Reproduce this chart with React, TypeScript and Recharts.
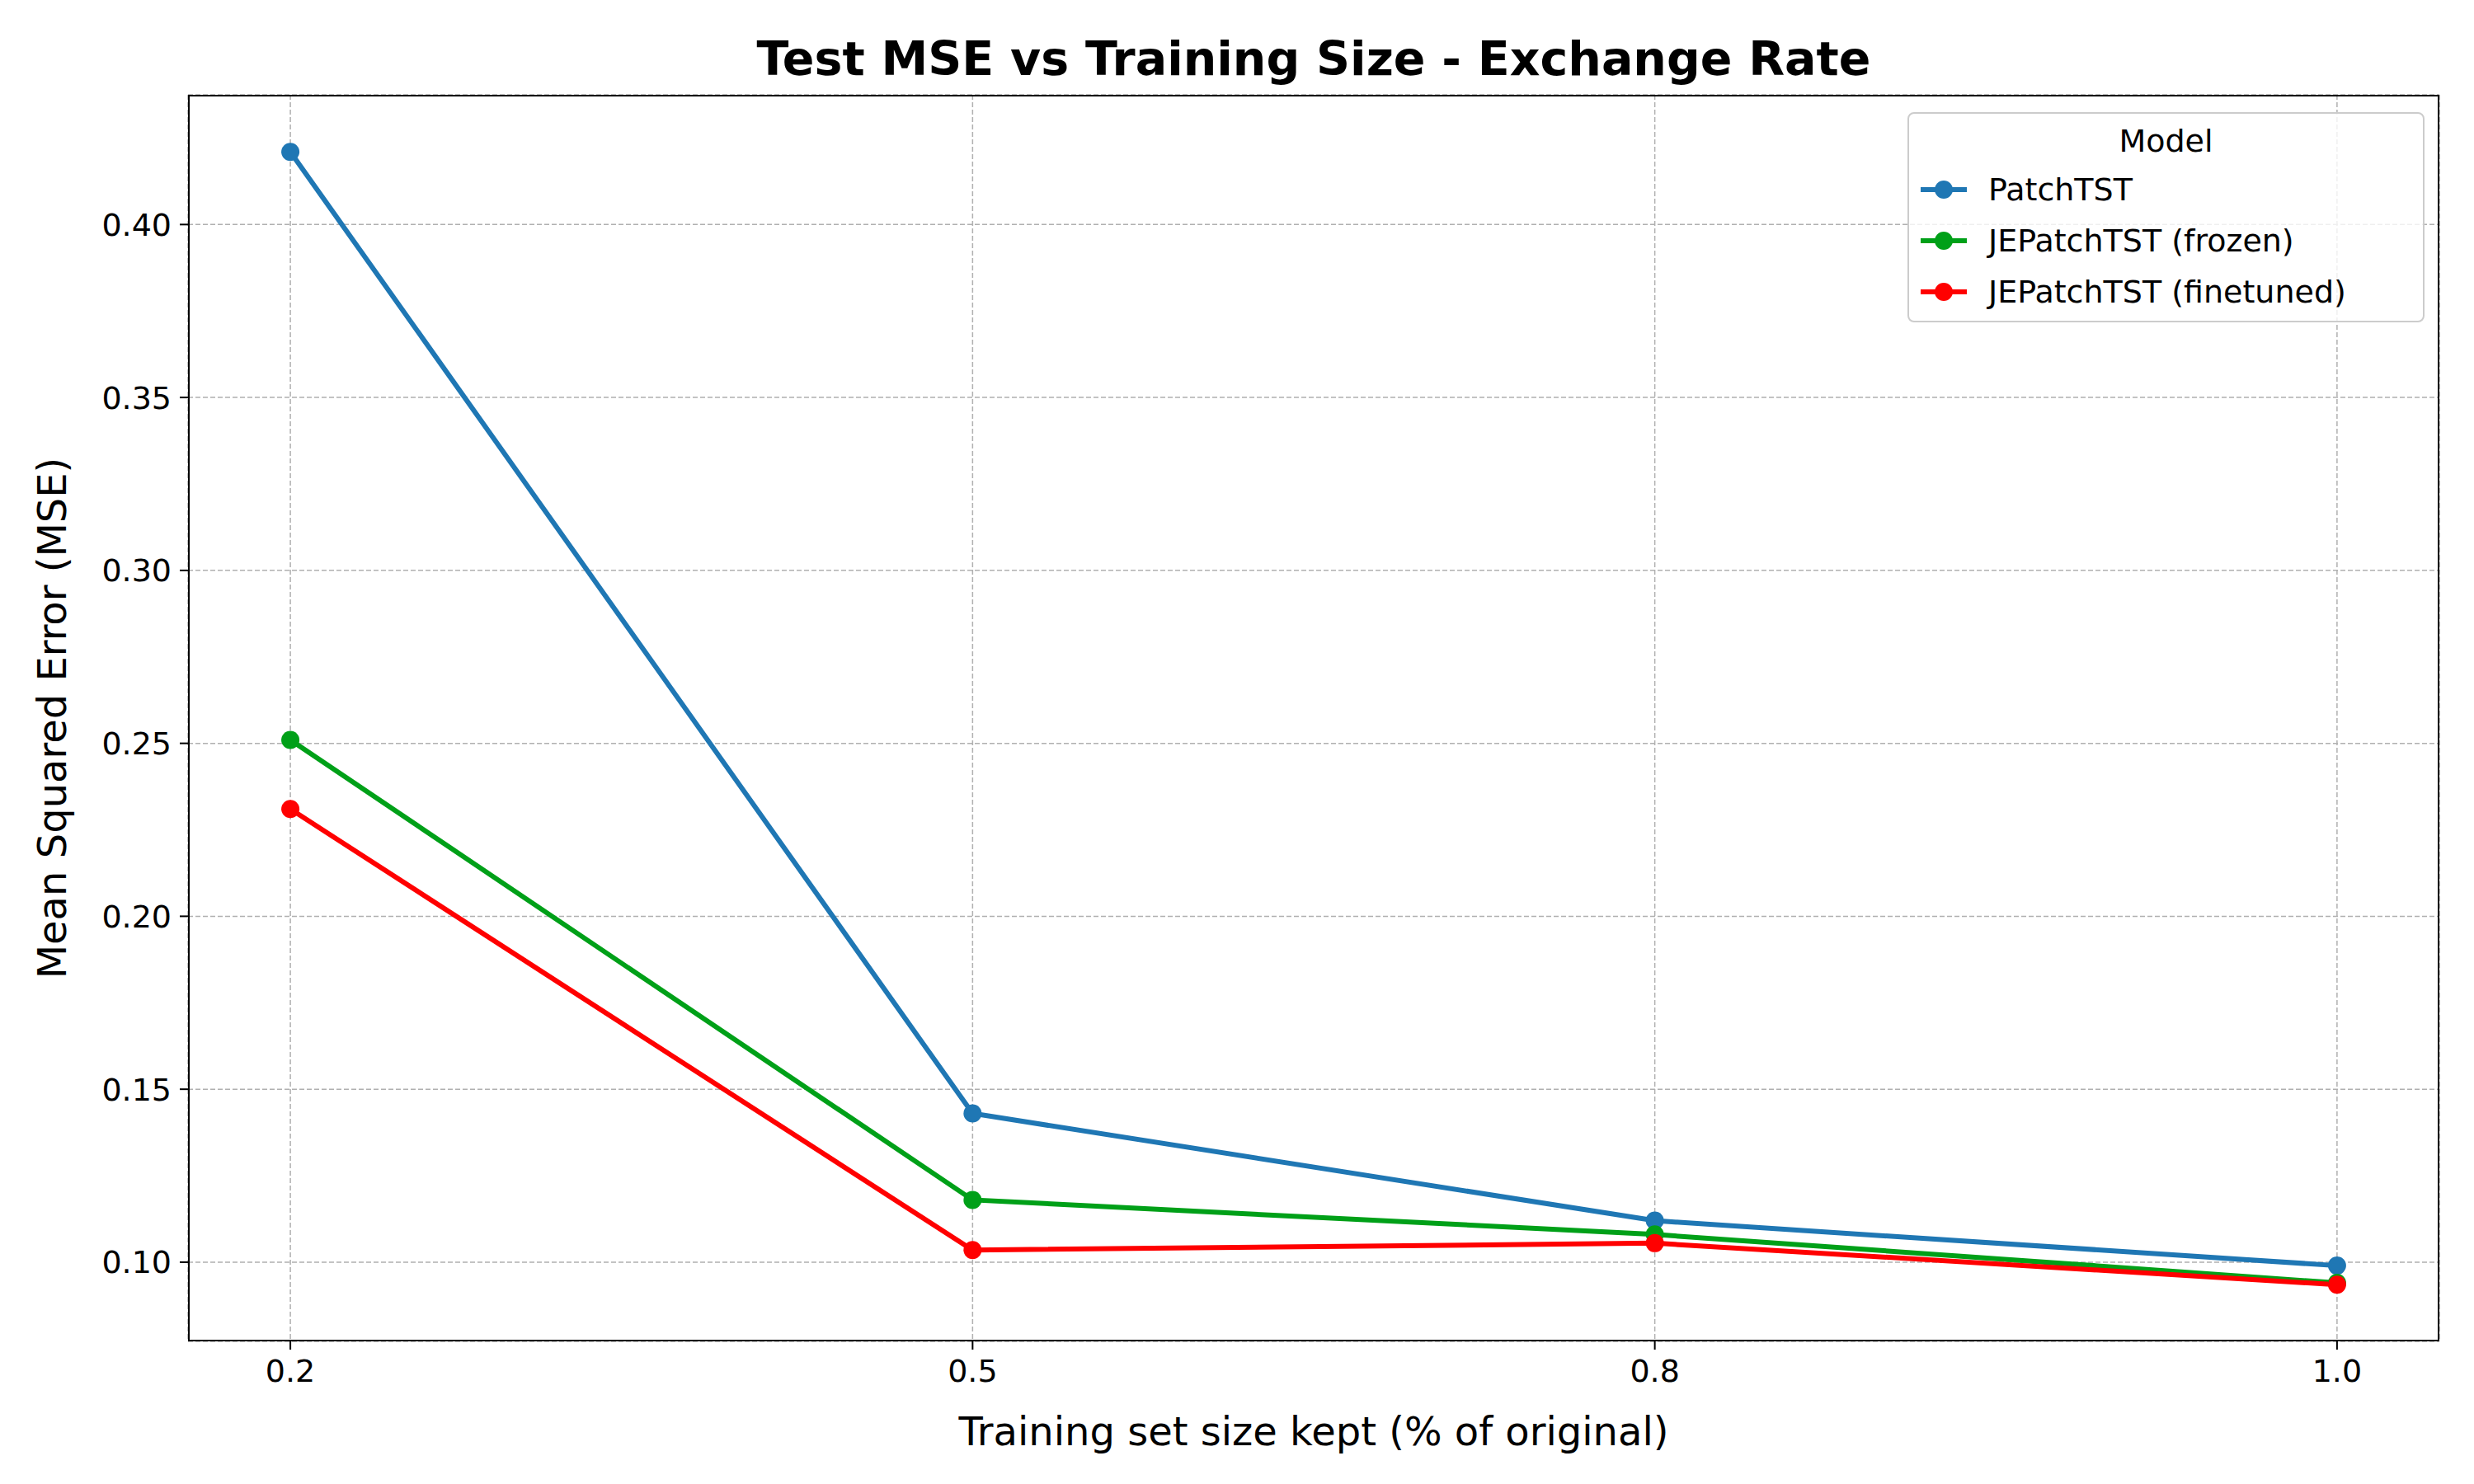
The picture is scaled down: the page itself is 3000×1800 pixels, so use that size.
import { LineChart, Line, XAxis, YAxis, CartesianGrid } from 'recharts'

const sizes = ['0.2', '0.5', '0.8', '1.0']
const patchTST = [0.421, 0.143, 0.112, 0.099]
const jeFrozen = [0.251, 0.118, 0.108, 0.094]
const jeFinetuned = [0.231, 0.1035, 0.1055, 0.0935]
const yTicks = [0.1, 0.15, 0.2, 0.25, 0.3, 0.35, 0.4]

const series = [
  { key: 'patch', name: 'PatchTST', color: '#1f77b4', values: patchTST },
  { key: 'frozen', name: 'JEPatchTST (frozen)', color: '#00a018', values: jeFrozen },
  { key: 'fine', name: 'JEPatchTST (finetuned)', color: '#ff0000', values: jeFinetuned },
]

const data = sizes.map((s, i) => ({
  idx: i,
  patch: patchTST[i],
  frozen: jeFrozen[i],
  fine: jeFinetuned[i],
}))

const font = 'DejaVu Sans, sans-serif'
const plot = { left: 228, top: 115, right: 2958, bottom: 1627 }

export default function App() {
  return (
    <div style={{ position: 'absolute', left: 0, top: 0, width: 3000, height: 1800, background: '#fff', fontFamily: font }}>
      <LineChart width={3000} height={1800} data={data}
        margin={{ top: plot.top, left: plot.left - 160, right: 3000 - plot.right, bottom: 73 }}>
        <CartesianGrid stroke="#b0b0b0" strokeDasharray="6 3" strokeWidth={1.5} />
        <XAxis dataKey="idx" type="number" domain={[-0.15, 3.15]} ticks={[0, 1, 2, 3]}
          tickFormatter={(v) => sizes[v]} height={100} axisLine={false}
          tick={{ fill: '#000', fontSize: 38, fontFamily: font }} tickSize={10}
          tickLine={{ stroke: '#000', strokeWidth: 2 }} tickMargin={12} />
        <YAxis type="number" domain={[0.0771, 0.4375]} ticks={yTicks} width={160}
          tickFormatter={(v) => v.toFixed(2)} axisLine={false}
          tick={{ fill: '#000', fontSize: 38, fontFamily: font }} tickSize={10}
          tickLine={{ stroke: '#000', strokeWidth: 2 }} tickMargin={10} />
        {series.map((s) => (
          <Line key={s.key} dataKey={s.key} type="linear" stroke={s.color} strokeWidth={6}
            dot={{ r: 11, fill: s.color, stroke: s.color, strokeWidth: 0 }} isAnimationActive={false} />
        ))}
      </LineChart>
      <div style={{ position: 'absolute', left: plot.left, top: plot.top, width: plot.right - plot.left, height: plot.bottom - plot.top, border: '2px solid #000', boxSizing: 'border-box', pointerEvents: 'none' }} />
      <div style={{ position: 'absolute', left: plot.left, width: plot.right - plot.left, top: 71, transform: 'translateY(-50%)', textAlign: 'center', fontSize: 57, fontWeight: 'bold', whiteSpace: 'nowrap' }}>
        Test MSE vs Training Size - Exchange Rate
      </div>
      <div style={{ position: 'absolute', left: plot.left, width: plot.right - plot.left, top: 1736, transform: 'translateY(-50%)', textAlign: 'center', fontSize: 48, whiteSpace: 'nowrap' }}>
        Training set size kept (% of original)
      </div>
      <div style={{ position: 'absolute', left: 63, top: (plot.top + plot.bottom) / 2, transform: 'translate(-50%, -50%) rotate(-90deg)', whiteSpace: 'nowrap', fontSize: 48 }}>
        Mean Squared Error (MSE)
      </div>
      <div style={{ position: 'absolute', left: 2313, top: 136, width: 627, height: 255, border: '2px solid #ccc', borderRadius: 8, boxSizing: 'border-box', background: 'rgba(255,255,255,0.8)' }}>
        <div style={{ position: 'absolute', left: 0, right: 0, top: 33, transform: 'translateY(-50%)', textAlign: 'center', fontSize: 38 }}>Model</div>
        {series.map((s, i) => (
          <div key={s.key} style={{ position: 'absolute', left: 14, top: 92 + i * 62, transform: 'translateY(-50%)', display: 'flex', alignItems: 'center', fontSize: 38, whiteSpace: 'nowrap' }}>
            <svg width={56} height={30} style={{ marginRight: 26 }}>
              <line x1={0} y1={15} x2={56} y2={15} stroke={s.color} strokeWidth={6} />
              <circle cx={28} cy={15} r={11} fill={s.color} />
            </svg>
            {s.name}
          </div>
        ))}
      </div>
    </div>
  )
}
